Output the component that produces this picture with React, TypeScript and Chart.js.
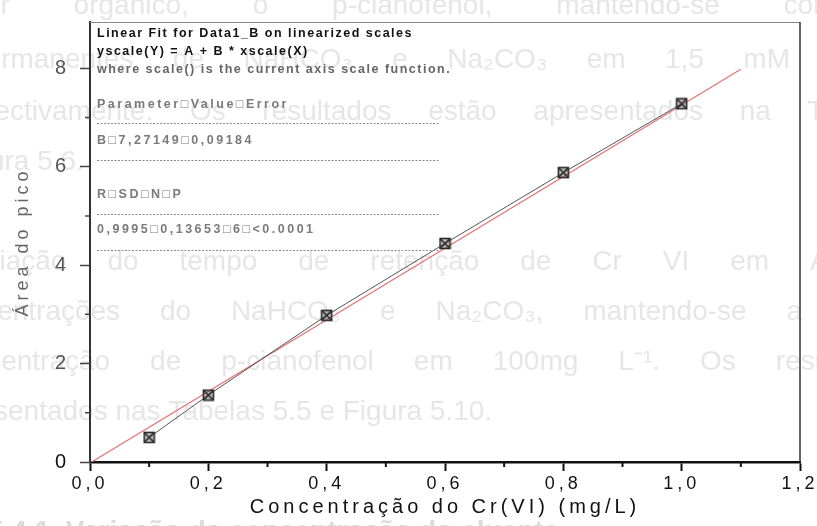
import { useEffect, useRef } from 'react';
import { Chart, registerables } from 'chart.js';

Chart.register(...registerables);

// Cr(VI) calibration standards (mg/L) and measured peak areas
const concentrations = [0.1, 0.2, 0.4, 0.6, 0.8, 1.0];
const peakAreas = [0.5, 1.36, 2.98, 4.44, 5.88, 7.28];

// Linear fit: y = A + B * x
const fitIntercept = -0.02;
const fitSlope = 7.27149;
const fitSlopeError = 0.09184;
const fitR = 0.9995;
const fitSD = 0.13653;
const fitN = 6;
const fitP = '<0.0001';
const fitXRange = [0, 1.1];

// Axes
const xMax = 1.2;
const yMax = 8.94;
const xMajorTicks = [0, 0.2, 0.4, 0.6, 0.8, 1.0, 1.2];
const xMinorTicks = [0.1, 0.3, 0.5, 0.7, 0.9, 1.1];
const yMajorTicks = [0, 2, 4, 6, 8];
const yMinorTicks = [1, 3, 5, 7];
const xTitle = 'Concentração do Cr(VI) (mg/L)';
const yTitle = 'Área do pico';

const FAMILY = '"Liberation Sans", Arial, sans-serif';
const SEP = '\u25A1';

const comma = (v: number, d: number) => v.toFixed(d).replace('.', ',');

// Fit report printed in the upper-left corner of the plot
const reportLines: { text: string; color: string; dy: number; spacing: number }[] = [
  { text: 'Linear Fit for Data1_B on linearized scales', color: '#111', dy: 12, spacing: 1.5 },
  { text: 'yscale(Y) = A + B * xscale(X)', color: '#111', dy: 30, spacing: 1.5 },
  { text: 'where scale() is the current axis scale function.', color: '#666', dy: 48, spacing: 1.5 },
  { text: ['Parameter', 'Value', 'Error'].join(SEP), color: '#7a7a7a', dy: 83, spacing: 2.5 },
  { text: ['B', comma(fitSlope, 5), comma(fitSlopeError, 5)].join(SEP), color: '#7a7a7a', dy: 119, spacing: 2.5 },
  { text: ['R', 'SD', 'N', 'P'].join(SEP), color: '#7a7a7a', dy: 173, spacing: 2.5 },
  { text: [comma(fitR, 4), comma(fitSD, 5), String(fitN), fitP].join(SEP), color: '#7a7a7a', dy: 208, spacing: 2.5 },
];
const reportRules = [101, 138, 192, 228];

// Faint lines of the printed page around the figure
const pageLines: { text: string; x0: number; x1?: number; y: number; bold?: boolean }[] = [
  { text: 'modificador orgânico, o p-cianofenol, mantendo-se constante', x0: -135, x1: 905, y: 6 },
  { text: 'permanentes de NaHCO₃ e Na₂CO₃ em 1,5 mM e', x0: -30, x1: 845, y: 60 },
  { text: 'respectivamente. Os resultados estão apresentados na Tabela', x0: -60, x1: 890, y: 112 },
  { text: 'Figura 5.6.', x0: -50, y: 162 },
  { text: 'Variação do tempo de retenção de Cr VI em Acetato', x0: -42, x1: 905, y: 262 },
  { text: 'concentrações do NaHCO₃ e Na₂CO₃, mantendo-se a', x0: -62, x1: 802, y: 312 },
  { text: 'concentração de p-cianofenol em 100mg L⁻¹. Os resultados', x0: -58, x1: 905, y: 362 },
  { text: 'apresentados nas Tabelas 5.5 e Figura 5.10.', x0: -62, y: 412 },
  { text: '5.4.1. Variação da concentração do eluente', x0: -12, y: 532, bold: true },
];

function makeMarker(): HTMLCanvasElement {
  const c = document.createElement('canvas');
  c.width = 13;
  c.height = 13;
  const g = c.getContext('2d')!;
  g.fillStyle = 'rgba(70,70,70,0.35)';
  g.fillRect(1.5, 1.5, 10, 10);
  g.strokeStyle = '#2a2a2a';
  g.lineWidth = 1.6;
  g.strokeRect(1.5, 1.5, 10, 10);
  g.beginPath();
  g.moveTo(2, 2);
  g.lineTo(11, 11);
  g.moveTo(11, 2);
  g.lineTo(2, 11);
  g.stroke();
  return c;
}

const pagePlugin = {
  id: 'pageDecor',
  beforeDraw(chart: any) {
    const ctx: CanvasRenderingContext2D = chart.ctx;
    ctx.save();
    ctx.textBaseline = 'middle';
    ctx.textAlign = 'left';
    (ctx as any).letterSpacing = '0px';
    ctx.filter = 'blur(0.7px)';
    for (const line of pageLines) {
      ctx.font = `${line.bold ? 'bold ' : ''}28px "Liberation Sans", Arial, sans-serif`;
      ctx.fillStyle = line.bold ? '#dcdcdc' : '#e6e6e6';
      if (line.x1 === undefined) {
        ctx.fillText(line.text, line.x0, line.y);
        continue;
      }
      const words = line.text.split(' ');
      const widths = words.map((w) => ctx.measureText(w).width);
      const total = widths.reduce((a, b) => a + b, 0);
      const gap = (line.x1 - line.x0 - total) / (words.length - 1);
      let x = line.x0;
      words.forEach((w, i) => {
        ctx.fillText(w, x, line.y);
        x += widths[i] + gap;
      });
    }
    ctx.restore();
    // spaced-out lettering for the axis labels
    (ctx as any).letterSpacing = '4px';
  },
  afterDraw(chart: any) {
    const ctx: CanvasRenderingContext2D = chart.ctx;
    const { left, right, top, bottom } = chart.chartArea;
    const xs = chart.scales.x;
    const ys = chart.scales.y;
    ctx.save();
    (ctx as any).letterSpacing = '0px';

    // top and right frame
    ctx.strokeStyle = '#888';
    ctx.lineWidth = 1;
    ctx.beginPath();
    ctx.moveTo(left, top + 0.5);
    ctx.lineTo(right, top + 0.5);
    ctx.stroke();
    ctx.strokeStyle = '#333';
    ctx.lineWidth = 1.5;
    ctx.beginPath();
    ctx.moveTo(right, top);
    ctx.lineTo(right, bottom);
    ctx.stroke();

    // minor tick marks
    ctx.strokeStyle = '#111';
    ctx.lineWidth = 2;
    ctx.beginPath();
    for (const v of xMinorTicks) {
      const px = xs.getPixelForValue(v);
      ctx.moveTo(px, bottom);
      ctx.lineTo(px, bottom + 5);
    }
    ctx.stroke();
    ctx.strokeStyle = '#444';
    ctx.lineWidth = 1.5;
    ctx.beginPath();
    for (const v of yMinorTicks) {
      const py = ys.getPixelForValue(v);
      ctx.moveTo(left, py);
      ctx.lineTo(left - 5, py);
    }
    ctx.stroke();

    // fit report
    const tx = left + 7;
    ctx.font = `bold 12.5px "Liberation Sans", Arial, sans-serif`;
    ctx.textBaseline = 'middle';
    ctx.textAlign = 'left';
    for (const line of reportLines) {
      (ctx as any).letterSpacing = `${line.spacing}px`;
      ctx.fillStyle = line.color;
      ctx.fillText(line.text, tx, top + line.dy);
    }
    ctx.strokeStyle = '#8a8a8a';
    ctx.lineWidth = 1;
    ctx.setLineDash([2, 1.5]);
    for (const dy of reportRules) {
      ctx.beginPath();
      ctx.moveTo(tx, top + dy + 0.5);
      ctx.lineTo(left + 350, top + dy + 0.5);
      ctx.stroke();
    }
    ctx.restore();
    (ctx as any).letterSpacing = '0px';
  },
};

export default function App() {
  const canvasRef = useRef<HTMLCanvasElement | null>(null);

  useEffect(() => {
    const canvas = canvasRef.current;
    if (!canvas) return;
    const marker = makeMarker();

    const measured = concentrations.map((x, i) => ({ x, y: peakAreas[i] }));
    const fitLine = fitXRange.map((x) => ({ x, y: fitIntercept + fitSlope * x }));

    const chart = new Chart(canvas, {
      type: 'scatter',
      data: {
        datasets: [
          {
            label: 'Data1_B',
            data: measured,
            showLine: true,
            borderColor: '#555',
            borderWidth: 1,
            pointStyle: marker as any,
            pointRadius: 6,
            order: 0,
          },
          {
            label: 'Linear Fit',
            data: fitLine,
            showLine: true,
            borderColor: '#e27272',
            borderWidth: 1.2,
            pointRadius: 0,
            order: 1,
          },
        ],
      },
      options: {
        animation: false,
        responsive: false,
        maintainAspectRatio: false,
        layout: { padding: { top: 15, right: 17, left: 0, bottom: 0 } },
        plugins: { legend: { display: false }, tooltip: { enabled: false } },
        scales: {
          x: {
            type: 'linear',
            min: 0,
            max: xMax,
            afterBuildTicks: (s: any) => {
              s.ticks = xMajorTicks.map((value) => ({ value }));
            },
            afterFit: (s: any) => {
              s.height = 64;
            },
            grid: {
              display: true,
              drawOnChartArea: false,
              drawTicks: true,
              tickLength: 9,
              tickWidth: 2,
              tickColor: '#111',
            },
            border: { display: true, color: '#111', width: 2.5 },
            ticks: {
              padding: 2,
              color: '#111',
              autoSkip: false,
              maxRotation: 0,
              font: { family: FAMILY, size: 18 },
              callback: (v: any) => comma(Number(v), 1),
            },
            title: {
              display: true,
              text: xTitle,
              color: '#111',
              font: { family: FAMILY, size: 20 },
              padding: { top: 0, bottom: 7 },
            },
          },
          y: {
            type: 'linear',
            min: 0,
            max: yMax,
            afterBuildTicks: (s: any) => {
              s.ticks = yMajorTicks.map((value) => ({ value }));
            },
            afterFit: (s: any) => {
              s.width = 90;
            },
            grid: {
              display: true,
              drawOnChartArea: false,
              drawTicks: true,
              tickLength: 10,
              tickWidth: 1.5,
              tickColor: '#444',
            },
            border: { display: true, color: '#333', width: 2 },
            ticks: {
              padding: 10,
              color: (c: any) => (c.tick && c.tick.value === 0 ? '#111' : '#555'),
              font: { family: FAMILY, size: 20 },
              callback: (v: any) => String(v),
            },
            title: {
              display: true,
              text: yTitle,
              color: '#666',
              font: { family: FAMILY, size: 18 },
              padding: { top: 12, bottom: 0 },
            },
          },
        },
      },
      plugins: [pagePlugin],
    });

    return () => chart.destroy();
  }, []);

  return (
    <div style={{ position: 'absolute', left: 0, top: 0, width: 817, height: 526, background: '#fff' }}>
      <canvas ref={canvasRef} width={817} height={526} style={{ display: 'block' }} />
    </div>
  );
}
